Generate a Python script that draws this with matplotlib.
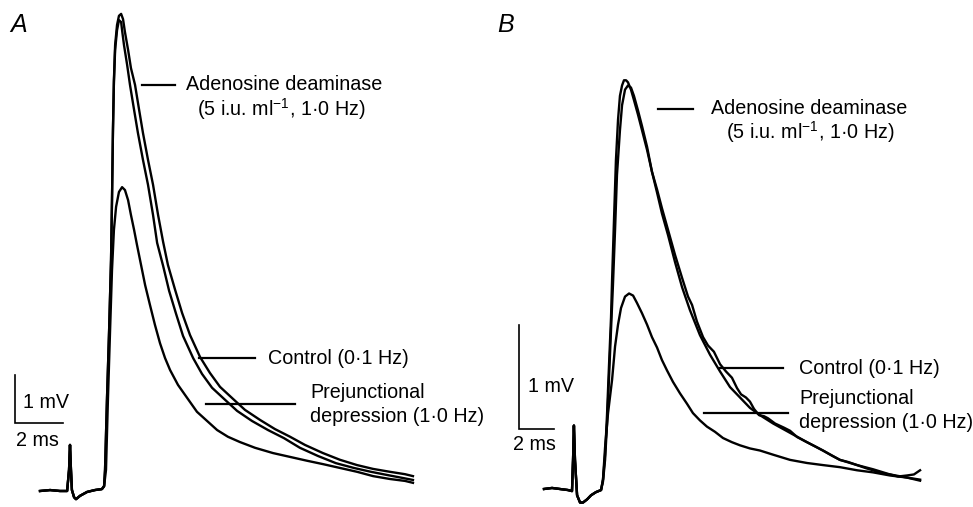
import numpy as np
import matplotlib
matplotlib.use("Agg")
import matplotlib.pyplot as plt
import matplotlib.transforms as mtransforms

plt.rcParams["font.family"] = ["Liberation Sans", "DejaVu Sans"]
plt.rcParams["mathtext.fontset"] = "custom"
plt.rcParams["mathtext.rm"] = "Liberation Sans"
plt.rcParams["mathtext.it"] = "Liberation Sans:italic"

# ---- panel A: time (ms) and membrane potential (mV) ----
a_pre_t = [0.00, 0.42, 0.83, 1.13, 1.21, 1.25, 1.29, 1.33, 1.42, 1.50, 1.67, 1.96, 2.29, 2.58, 2.67]
a_pre_v = [0.00, 0.02, 0.00, 0.00, 0.44, 0.96, 0.44, 0.02, -0.13, -0.17, -0.10, -0.02, 0.02, 0.04, 0.10]

a_ada_t = [2.71, 2.79, 2.88, 2.96, 3.00, 3.04, 3.08, 3.13, 3.21, 3.29, 3.38, 3.46, 3.54, 3.67,
           3.79, 3.96, 4.13, 4.29, 4.50, 4.71, 4.92, 5.13, 5.33, 5.63, 5.92, 6.25, 6.67, 7.08,
           7.50, 8.04, 8.54, 9.17, 9.79, 10.42, 11.04, 11.79, 12.50, 13.21, 13.88, 14.58, 15.21, 15.54]
a_ada_v = [0.44, 1.90, 3.35, 4.81, 6.06, 7.52, 8.56, 9.29, 9.71, 9.90, 9.94, 9.83, 9.56, 9.19,
           8.81, 8.46, 7.94, 7.46, 6.90, 6.38, 5.75, 5.19, 4.71, 4.19, 3.71, 3.25, 2.79, 2.46,
           2.17, 1.92, 1.69, 1.48, 1.29, 1.13, 0.96, 0.79, 0.65, 0.54, 0.46, 0.40, 0.35, 0.31]

a_ctrl_t = [2.71, 2.79, 2.88, 2.96, 3.00, 3.04, 3.08, 3.13, 3.21, 3.29, 3.38, 3.42, 3.50, 3.63,
            3.75, 3.92, 4.08, 4.29, 4.50, 4.71, 4.88, 5.13, 5.38, 5.67, 5.96, 6.38, 6.75,
            7.17, 7.71, 8.21, 8.83, 9.50, 10.17, 10.83, 11.58, 12.33, 13.08, 13.79, 14.50,
            15.13, 15.54]
a_ctrl_v = [0.44, 1.90, 3.35, 4.81, 6.06, 7.52, 8.52, 9.19, 9.60, 9.81, 9.77, 9.60, 9.29, 8.88,
            8.46, 7.94, 7.46, 6.90, 6.38, 5.75, 5.17, 4.69, 4.17, 3.69, 3.23, 2.77, 2.44,
            2.15, 1.90, 1.67, 1.46, 1.27, 1.10, 0.90, 0.73, 0.58, 0.48, 0.40, 0.33,
            0.27, 0.23]

a_prej_t = [2.75, 2.83, 2.92, 3.00, 3.08, 3.17, 3.29, 3.42, 3.54, 3.67, 3.79, 3.92, 4.04, 4.21,
            4.38, 4.58, 4.79, 5.00, 5.21, 5.42, 5.75, 6.13, 6.54, 6.96, 7.38, 7.83, 8.33, 8.96,
            9.71, 10.42, 11.13, 11.79, 12.50, 13.21, 13.88, 14.58, 15.21, 15.54]
a_prej_v = [0.44, 1.90, 3.35, 4.60, 5.44, 5.92, 6.23, 6.33, 6.27, 6.06, 5.75, 5.44, 5.13, 4.71,
            4.29, 3.88, 3.46, 3.08, 2.77, 2.52, 2.21, 1.94, 1.65, 1.46, 1.27, 1.13, 1.02, 0.90,
            0.79, 0.71, 0.63, 0.56, 0.48, 0.40, 0.31, 0.25, 0.21, 0.17]

# ---- panel B ----
b_pre_t = [0.00, 0.46, 0.91, 1.37, 1.60, 1.66, 1.71, 1.77, 1.89, 2.06, 2.23, 2.46, 2.69, 2.97, 3.26]
b_pre_v = [0.00, 0.01, 0.00, -0.01, -0.02, 0.28, 0.61, 0.28, -0.06, -0.13, -0.13, -0.10, -0.06, -0.03, -0.01]

b_ada_t = [3.37, 3.49, 3.60, 3.71, 3.83, 3.89, 4.00, 4.11, 4.23, 4.34, 4.46, 4.57, 4.69, 4.80,
           4.97, 5.14, 5.37, 5.60, 5.89, 6.17, 6.46, 6.74, 7.09, 7.49, 7.89, 8.34, 8.91, 9.49,
           10.06, 10.63, 11.20, 11.77, 12.34, 13.09, 14.06, 15.03, 15.94, 16.91, 17.89, 18.80,
           19.77, 20.74, 21.49]
b_ada_v = [0.09, 0.33, 0.71, 1.17, 1.65, 2.01, 2.59, 3.16, 3.55, 3.78, 3.88, 3.93, 3.93, 3.91,
           3.84, 3.74, 3.60, 3.45, 3.26, 3.05, 2.85, 2.65, 2.44, 2.18, 1.94, 1.72, 1.48, 1.29,
           1.13, 0.98, 0.88, 0.78, 0.71, 0.63, 0.54, 0.45, 0.37, 0.28, 0.23, 0.19,
           0.14, 0.11, 0.08]

b_ctrl_t = [3.37, 3.49, 3.60, 3.71, 3.83, 3.94, 4.06, 4.17, 4.34, 4.46, 4.63, 4.80, 4.97, 5.14,
            5.37, 5.60, 5.89, 6.17, 6.46, 6.74, 7.09, 7.49, 7.89, 8.23, 8.46, 8.74, 9.09, 9.37,
            9.71, 10.06, 10.40, 10.74, 11.03, 11.26, 11.54, 11.77, 12.00, 12.29, 12.57, 12.80,
            13.20, 13.71, 14.06, 14.46, 14.91, 15.49, 15.94, 16.46, 16.91, 17.37, 17.89, 18.40,
            18.80, 19.31, 19.77, 20.23, 20.74, 21.14, 21.49]
b_ctrl_v = [0.07, 0.28, 0.62, 1.05, 1.53, 1.96, 2.49, 3.02, 3.45, 3.69, 3.84, 3.88, 3.86, 3.78,
            3.64, 3.49, 3.29, 3.05, 2.88, 2.70, 2.49, 2.25, 2.03, 1.85, 1.77, 1.61, 1.46, 1.38,
            1.32, 1.20, 1.13, 1.07, 0.97, 0.91, 0.88, 0.84, 0.77, 0.71, 0.70, 0.68,
            0.63, 0.59, 0.56, 0.50, 0.46, 0.41, 0.37, 0.32, 0.28, 0.26, 0.23, 0.20,
            0.18, 0.15, 0.14, 0.12, 0.13, 0.14, 0.18]

b_prej_t = [3.37, 3.49, 3.66, 3.89, 4.06, 4.23, 4.40, 4.63, 4.86, 5.09, 5.31, 5.60, 5.89, 6.17,
            6.46, 6.74, 7.03, 7.37, 7.77, 8.17, 8.51, 8.91, 9.31, 9.77, 10.23, 10.74, 11.20,
            11.77, 12.34, 13.09, 14.06, 15.03, 15.94, 16.91, 17.89, 18.80, 19.77, 20.74, 21.49]
b_prej_v = [0.09, 0.40, 0.73, 1.05, 1.37, 1.58, 1.74, 1.85, 1.88, 1.86, 1.79, 1.69, 1.58, 1.46,
            1.36, 1.24, 1.14, 1.03, 0.92, 0.82, 0.73, 0.66, 0.60, 0.55, 0.49, 0.45, 0.42,
            0.39, 0.37, 0.33, 0.28, 0.25, 0.23, 0.21, 0.18, 0.16, 0.13, 0.11, 0.09]

label_ada = ["Adenosine deaminase", r"(5 i.u. ml$^{-1}$, 1·0 Hz)"]
label_ctrl = "Control (0·1 Hz)"
label_prej = ["Prejunctional", "depression (1·0 Hz)"]

W, H = 973, 507
fig = plt.figure(figsize=(W / 100, H / 100), dpi=100)
# pixel coordinates measured from the top-left corner
pix = mtransforms.Affine2D().scale(1 / 100, -1 / 100).translate(0, H / 100) + fig.dpi_scale_trans

TRACE_LW = 1.7
FS = 14.2


def panel(left, width, x0, y0, px_ms, px_mv):
    ax = fig.add_axes([left / W, 0, width / W, 1])
    ax.set_xlim((left - x0) / px_ms, (left + width - x0) / px_ms)
    ax.set_ylim((y0 - H) / px_mv, y0 / px_mv)
    ax.axis("off")
    return ax


def trace(ax, pre_t, pre_v, t, v):
    ax.plot(np.concatenate([pre_t, t]), np.concatenate([pre_v, v]),
            color="black", lw=TRACE_LW, solid_joinstyle="round")


def scale_bar(ax, t0, v0):
    ax.plot([t0, t0, t0 + 2], [v0 + 1, v0, v0], color="black", lw=1.2,
            solid_joinstyle="miter")


def pointer(x1, x2, y):
    fig.add_artist(plt.Line2D([x1, x2], [y, y], transform=pix, color="black", lw=1.6))


def label(x, y, s, size=FS):
    fig.text(x, y, s, transform=pix, ha="left", va="center", fontsize=size)


# panel A
axA = panel(0, 486, 40, 491, 24.0, 48.0)
for t, v in [(a_ada_t, a_ada_v), (a_ctrl_t, a_ctrl_v), (a_prej_t, a_prej_v)]:
    trace(axA, a_pre_t, a_pre_v, t, v)
scale_bar(axA, -1.042, 1.417)

fig.text(10, 25, "A", transform=pix, ha="left", va="center", fontsize=18, style="italic")
label(23, 403, "1 mV")
label(16, 440, "2 ms")
pointer(142, 175, 85)
label(186, 85, label_ada[0])
label(197, 109, label_ada[1])
pointer(199, 255, 358)
label(268, 358, label_ctrl)
pointer(206, 295, 404)
label(310, 393, label_prej[0])
label(310, 416, label_prej[1])

# panel B
axB = panel(486, 487, 544, 489, 17.5, 104.0)
for t, v in [(b_ada_t, b_ada_v), (b_ctrl_t, b_ctrl_v), (b_prej_t, b_prej_v)]:
    trace(axB, b_pre_t, b_pre_v, t, v)
scale_bar(axB, -1.429, 0.577)

fig.text(497, 25, "B", transform=pix, ha="left", va="center", fontsize=18, style="italic")
label(528, 386, "1 mV")
label(513, 445, "2 ms")
pointer(658, 693, 109)
label(711, 108, label_ada[0])
label(726, 132, label_ada[1])
pointer(720, 783, 368)
label(799, 368, label_ctrl)
pointer(704, 788, 413)
label(799, 399, label_prej[0])
label(799, 422, label_prej[1])

fig.savefig("out.png", dpi=100, facecolor="white")
